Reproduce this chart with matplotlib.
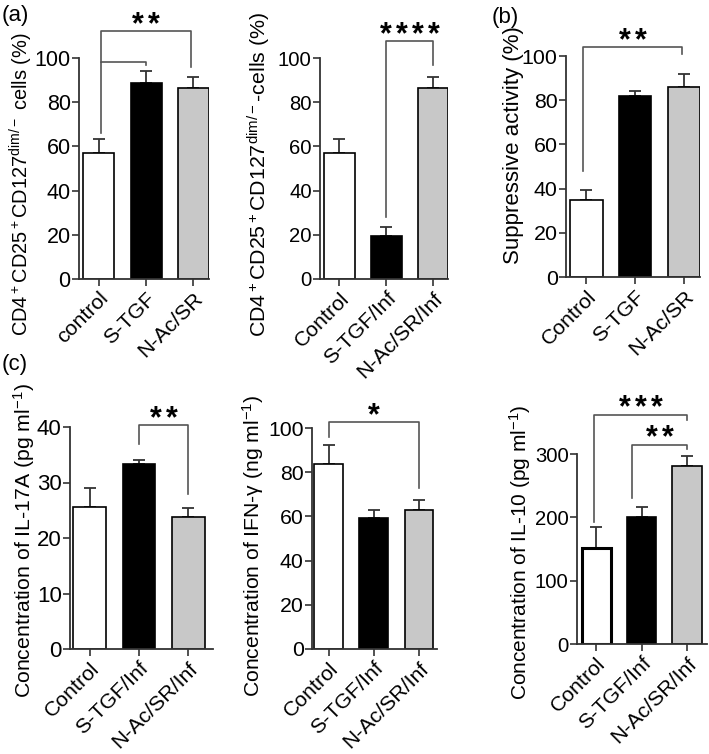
import matplotlib
matplotlib.use("Agg")
import matplotlib.pyplot as plt
import matplotlib.transforms as mtransforms
import numpy as np

plt.rcParams['font.family'] = ['Liberation Sans', 'DejaVu Sans']
plt.rcParams['mathtext.fontset'] = 'custom'
plt.rcParams['mathtext.rm'] = 'Liberation Sans'
plt.rcParams['mathtext.it'] = 'Liberation Sans'
plt.rcParams['mathtext.default'] = 'regular'

# ---- data ----
groups_a1 = ['control', 'S-TGF', 'N-Ac/SR']
treg_a1 = [57, 88.5, 86.5]
treg_a1_err = [6.5, 5.5, 5]

groups_inf = ['Control', 'S-TGF/Inf', 'N-Ac/SR/Inf']
treg_a2 = [57, 19.5, 86.5]
treg_a2_err = [6.5, 4, 5]

groups_b = ['Control', 'S-TGF', 'N-Ac/SR']
suppr_b = [35, 82, 86]
suppr_b_err = [4.5, 2, 6]

il17 = [25.6, 33.3, 23.8]
il17_err = [3.4, 0.8, 1.6]

ifng = [83.5, 59.3, 62.7]
ifng_err = [9, 3.5, 4.8]

il10 = [151, 201, 281.5]
il10_err = [33, 16, 15]

colors = ['white', 'black', '#c8c8c8']
FS = 16
XFS = 15.3

W, H = 709, 754
fig = plt.figure(figsize=(W / 100, H / 100), dpi=100)


def make_ax(x0, x1, ytop, ybot):
    ax = fig.add_axes([x0 / W, 1 - ybot / H, (x1 - x0) / W, (ybot - ytop) / H])
    ax.box_px = (x0, x1, ytop, ybot)
    return ax


def ylab(ax, text, fs, xr, yc):
    # xr: right edge of the label (px), yc: vertical centre (px)
    x0, x1, ytop, ybot = ax.box_px
    ax.set_ylabel(text, fontsize=fs)
    ax.yaxis.set_label_coords((xr - x0) / (x1 - x0), (ybot - yc) / (ybot - ytop))


def bars(ax, labels, vals, errs, ymax, yticks, xlim, width=0.66, lw=(1.2, 1.2, 1.2), tfs=FS):
    x = np.arange(len(vals))
    ax.bar(x, vals, width=width, color=colors, edgecolor='black', linewidth=list(lw), zorder=2)
    ax.errorbar(x, vals, yerr=[np.zeros(len(errs)), errs], fmt='none', ecolor='#333333',
                elinewidth=1.3, capsize=4.3, capthick=1.3, zorder=1)
    ax.set_xlim(*xlim)
    ax.set_ylim(0, ymax)
    ax.set_yticks(yticks)
    ax.set_xticks(x)
    ax.set_xticklabels(labels, rotation=45, ha='right', rotation_mode='anchor', fontsize=XFS)
    ax.tick_params(axis='y', labelsize=tfs, length=5, width=1.2, color='#333333', pad=1)
    ax.tick_params(axis='x', length=5, width=1.2, color='#333333', pad=2)
    for s in ['top', 'right']:
        ax.spines[s].set_visible(False)
    for s in ['left', 'bottom']:
        ax.spines[s].set_linewidth(1.3)
        ax.spines[s].set_color('#333333')


def bracket(ax, x1, x2, ytop, yl, yr, nstars):
    ax.plot([x1, x1, x2, x2], [yl, ytop, ytop, yr], color='#555555', lw=1.2,
            clip_on=False, zorder=3)
    # asterisks, each 16 px apart, centred over the bracket
    xm = (x1 + x2) / 2
    for i in range(nstars):
        dx = (i - (nstars - 1) / 2) * 16 * 72 / 100
        tr = mtransforms.offset_copy(ax.transData, fig=fig, x=dx, y=-2 * 72 / 100, units='points')
        ax.text(xm, ytop, '*', transform=tr, ha='center', va='baseline', fontsize=22,
                fontweight='bold', clip_on=False)


# (a) left
ax1 = make_ax(79, 209, 58, 279)
bars(ax1, groups_a1, treg_a1, treg_a1_err, 100, [0, 20, 40, 60, 80, 100], (-0.42, 2.33), tfs=15.5)
ylab(ax1, 'CD4$^+$CD25$^+$CD127$^{dim/-}$ cells (%)', 14.4, 35, 184)
bracket(ax1, 0.05, 1.0, 98, 66, 97, 0)
bracket(ax1, 0.05, 1.95, 112, 98, 96, 2)

# (a) right
ax2 = make_ax(320, 448, 58, 279)
bars(ax2, groups_inf, treg_a2, treg_a2_err, 100, [0, 20, 40, 60, 80, 100], (-0.41, 2.32), tfs=14.6)
ylab(ax2, 'CD4$^+$CD25$^+$CD127$^{dim/-}$-cells (%)', 15.4, 273, 174)
bracket(ax2, 1.0, 2.0, 107.7, 28, 97, 4)

# (b)
ax3 = make_ax(566, 700, 56, 277)
bars(ax3, groups_b, suppr_b, suppr_b_err, 100, [0, 20, 40, 60, 80, 100], (-0.42, 2.33), tfs=15.4)
ylab(ax3, 'Suppressive activity (%)', 16, 524, 145)
bracket(ax3, -0.07, 1.97, 104, 48, 101, 2)

# (c) IL-17A
ax4 = make_ax(70, 213, 427, 649)
bars(ax4, groups_inf, il17, il17_err, 40, [0, 10, 20, 30, 40], (-0.4, 2.5), tfs=16)
ylab(ax4, 'Concentration of IL-17A (pg ml$^{-1}$)', 15.3, 37, 541)
bracket(ax4, 1.0, 2.0, 40.3, 37, 28, 2)

# (c) IFN-γ
ax5 = make_ax(312, 437, 428, 649)
bars(ax5, groups_inf, ifng, ifng_err, 100, [0, 20, 40, 60, 80, 100], (-0.37, 2.4), width=0.64,
     tfs=15.3)
ylab(ax5, 'Concentration of IFN-γ (ng ml$^{-1}$)', 15.2, 266, 546)
bracket(ax5, 0.0, 2.0, 102.7, 96, 73, 1)

# (c) IL-10
ax6 = make_ax(577, 707, 454, 644)
bars(ax6, groups_inf, il10, il10_err, 300, [0, 100, 200, 300], (-0.42, 2.44), width=0.64,
     lw=(2.2, 1.2, 1.2), tfs=14.6)
ylab(ax6, 'Concentration of IL-10 (pg ml$^{-1}$)', 15, 533, 552)
bracket(ax6, -0.04, 2.0, 362, 193, 354, 3)
bracket(ax6, 0.8, 2.0, 315, 230, 308, 2)

# panel letters
fig.text(2 / W, 1 - 16 / H, '(a)', fontsize=FS, va='center', ha='left')
fig.text(492 / W, 1 - 17 / H, '(b)', fontsize=FS, va='center', ha='left')
fig.text(2 / W, 1 - 364 / H, '(c)', fontsize=FS, va='center', ha='left')

plt.savefig("out.png", dpi=100)
